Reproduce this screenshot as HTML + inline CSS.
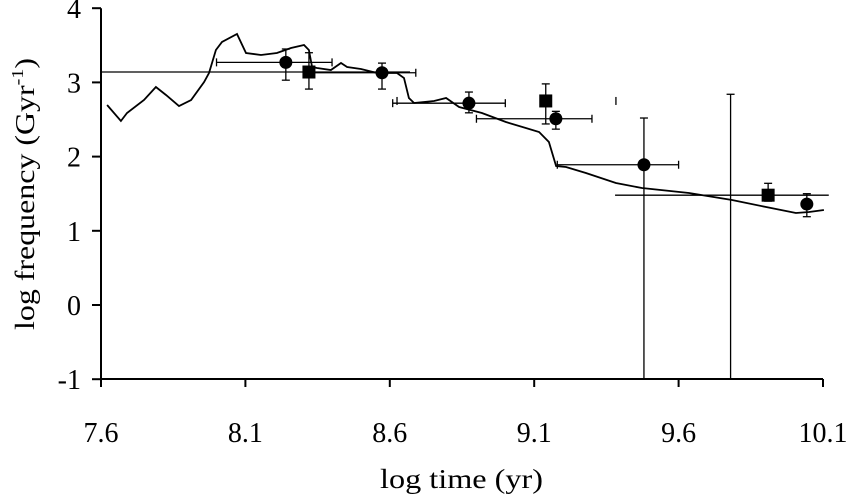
<!DOCTYPE html>
<html><head><meta charset="utf-8"><style>
html,body{margin:0;padding:0;background:#fff}
svg{display:block}
text{font-family:"Liberation Serif",serif;fill:#000}
</style></head><body>
<svg id="chart" width="849" height="494" viewBox="0 0 849 494" xmlns="http://www.w3.org/2000/svg">
<g id="axes"></g>
<g id="marks"></g>
<text x="380" y="488" font-size="27" textLength="163" lengthAdjust="spacingAndGlyphs">log time (yr)</text>
<text transform="translate(34,330) rotate(-90)" font-size="27" textLength="272" lengthAdjust="spacingAndGlyphs">log frequency (Gyr<tspan dy="-11" font-size="17">-1</tspan><tspan dy="11">)</tspan></text>
</svg>
<script>
const xTicks = [7.6, 8.1, 8.6, 9.1, 9.6, 10.1];
const xTickLabels = ["7.6", "8.1", "8.6", "9.1", "9.6", "10.1"];
const yTicks = [-1, 0, 1, 2, 3, 4];
const yTickLabels = ["-1", "0", "1", "2", "3", "4"];
const modelX = [7.621,7.669,7.690,7.749,7.790,7.825,7.870,7.912,7.957,7.974,7.998,8.019,8.071,8.102,8.154,8.209,8.258,8.303,8.320,8.331,8.348,8.396,8.431,8.452,8.500,8.556,8.625,8.649,8.666,8.684,8.753,8.795,8.840,8.919,9.002,9.117,9.151,9.176,9.210,9.279,9.383,9.473,9.636,9.785,9.903,10.006,10.052,10.103];
const modelY = [2.695,2.480,2.588,2.763,2.938,2.830,2.682,2.763,3.005,3.127,3.437,3.544,3.652,3.396,3.369,3.396,3.464,3.504,3.437,3.208,3.194,3.167,3.261,3.208,3.181,3.127,3.127,3.059,2.790,2.722,2.749,2.790,2.668,2.588,2.466,2.332,2.197,1.873,1.860,1.779,1.644,1.577,1.509,1.415,1.321,1.240,1.253,1.280];
const circX = [8.24, 8.573, 8.874, 9.175, 9.48, 10.044];
const circY = [3.27, 3.13, 2.72, 2.51, 1.89, 1.36];
const circXLo = [8.00, 8.30, 8.61, 8.90, 9.18, null];
const circXHi = [8.40, 8.69, 9.00, 9.30, 9.60, null];
const circYLo = [3.03, 2.91, 2.59, 2.37, -1, 1.19];
const circYHi = [3.45, 3.26, 2.87, 2.61, 2.52, 1.50];
const sqX = [8.32, 9.14, 9.91];
const sqY = [3.14, 2.75, 1.48];
const sqXLo = [7.6, null, 9.38];
const sqXHi = [8.67, null, 10.12];
const sqYLo = [2.91, 2.44, 1.40];
const sqYHi = [3.40, 2.98, 1.64];
const extraBarX = [9.78];
const extraBarLo = [-1];
const extraBarHi = [2.84];
const loneCapX = [8.625, 9.383];
const loneCapY = [2.75, 2.75];

const X0=101, Y0=379;
function xs(v){return 101 + (v-7.6)*288.8;}
function ys(v){return 305 - v*74.2;}
const NS="http://www.w3.org/2000/svg";
function mk(tag, parent, attrs){const e=document.createElementNS(NS,tag);for(const k in attrs)e.setAttribute(k,attrs[k]);parent.appendChild(e);return e;}
const axes=document.getElementById('axes'), marks=document.getElementById('marks');
let e;
e=mk('line',axes,{x1:X0,y1:ys(4),x2:X0,y2:Y0,stroke:'#000','stroke-width':2});


e=mk('line',axes,{x1:X0,y1:Y0,x2:xs(10.1),y2:Y0,stroke:'#000','stroke-width':2});


yTicks.forEach((t,i)=>{
  e=mk('line',axes,{x1:92,y1:ys(t),x2:X0,y2:ys(t),stroke:'#000','stroke-width':2});
  
  
  e=mk('text',axes,{x:81,y:ys(t)+10,'font-size':28,'text-anchor':'end'});
  e.textContent=yTickLabels[i];
  
  
});
xTicks.forEach((t,i)=>{
  e=mk('line',axes,{x1:xs(t),y1:Y0,x2:xs(t),y2:Y0+8,stroke:'#000','stroke-width':2});
  
  
  e=mk('text',axes,{x:xs(t),y:442,'font-size':28,'text-anchor':'middle'});
  e.textContent=xTickLabels[i];
  
  
});
let d=modelX.map((v,i)=>(i?'L':'M')+xs(v).toFixed(1)+' '+ys(modelY[i]).toFixed(1)).join(' ');
e=mk('path',marks,{d:d,fill:'none',stroke:'#000','stroke-width':1.8});


function hbar(lo,hi,y,caps){
  const g=mk('g',marks,{});
  
  
  mk('line',g,{x1:xs(lo),y1:ys(y),x2:Math.min(xs(hi),849),y2:ys(y),stroke:'#000','stroke-width':1.3});
  if(caps){
    mk('line',g,{x1:xs(lo),y1:ys(y)-4,x2:xs(lo),y2:ys(y)+4,stroke:'#000','stroke-width':1.3});
    mk('line',g,{x1:xs(hi),y1:ys(y)-4,x2:xs(hi),y2:ys(y)+4,stroke:'#000','stroke-width':1.3});
  }
}
function vbar(x,lo,hi){
  const g=mk('g',marks,{});
  
  
  mk('line',g,{x1:xs(x),y1:ys(lo),x2:xs(x),y2:ys(hi),stroke:'#000','stroke-width':1.3});
  mk('line',g,{x1:xs(x)-4,y1:ys(hi),x2:xs(x)+4,y2:ys(hi),stroke:'#000','stroke-width':1.3});
  if(lo>-1) mk('line',g,{x1:xs(x)-4,y1:ys(lo),x2:xs(x)+4,y2:ys(lo),stroke:'#000','stroke-width':1.3});
}
circX.forEach((v,i)=>{
  if(circXLo[i]!==null) hbar(circXLo[i],circXHi[i],circY[i],true);
  vbar(v,circYLo[i],circYHi[i]);
  e=mk('circle',marks,{cx:xs(v),cy:ys(circY[i]),r:6.5,fill:'#000'});
  
  
});
sqX.forEach((v,i)=>{
  if(sqXLo[i]!==null) hbar(sqXLo[i],sqXHi[i],sqY[i],false);
  vbar(v,sqYLo[i],sqYHi[i]);
  e=mk('rect',marks,{x:xs(v)-6.5,y:ys(sqY[i])-6.5,width:13,height:13,fill:'#000'});
  
  
});
extraBarX.forEach((v,i)=>{vbar(v,extraBarLo[i],extraBarHi[i]);});
loneCapX.forEach((v,i)=>{
  e=mk('line',marks,{x1:xs(v),y1:ys(loneCapY[i])-4,x2:xs(v),y2:ys(loneCapY[i])+4,stroke:'#000','stroke-width':1.3});
  
  
});
</script>
</body></html>
